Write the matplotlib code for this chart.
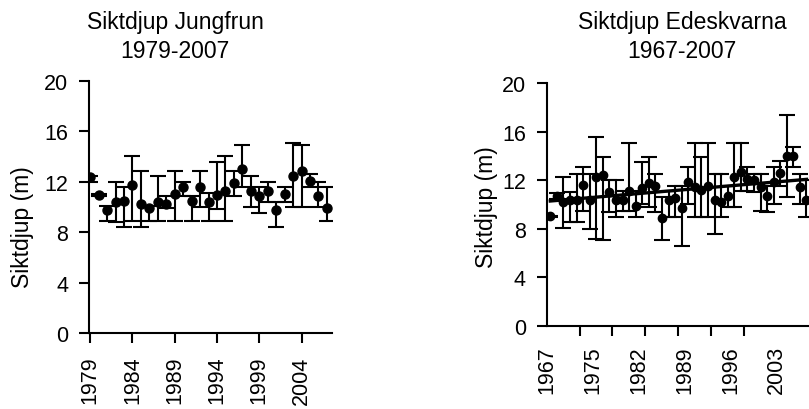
import matplotlib
matplotlib.use('Agg')
import matplotlib.pyplot as plt
import numpy as np

plt.rcParams['font.family'] = ['Liberation Sans', 'DejaVu Sans']

# Siktdjup Jungfrun 1979-2007
jung_years = list(range(1979, 2008))
jung_mean = [12.35, 10.95, 9.79, 10.37, 10.5, 11.77, 10.24, 9.92, 10.37, 10.26,
             11.03, 11.56, 10.5, 11.56, 10.37, 10.98, 11.24, 11.9, 13.0, 11.24,
             10.84, 11.24, 9.79, 11.03, 12.48, 12.82, 12.08, 10.84, 9.92]
jung_low = [12.0, 10.9, 8.92, 8.79, 8.44, 8.92, 8.44, 8.92, 8.92, 9.89,
            8.92, 10.9, 8.92, 9.97, 8.92, 9.84, 8.92, 10.9, 11.56, 9.97,
            9.52, 10.37, 8.44, 10.37, 9.97, 9.97, 11.56, 9.97, 8.92]
jung_high = [12.43, 11.0, 10.05, 12.0, 11.56, 14.0, 12.88, 10.1, 12.43, 10.9,
             12.88, 12.0, 10.9, 12.88, 11.08, 13.54, 14.0, 12.88, 14.9, 12.43,
             11.56, 12.0, 10.37, 11.56, 15.07, 14.9, 12.6, 12.0, 11.56]
jung_ticks = [1979, 1984, 1989, 1994, 1999, 2004]

# Siktdjup Edeskvarna 1967-2007 (one year missing in the series)
edes_years = [1967] + list(range(1969, 2008))
edes_mean = [9.02, 10.67, 10.22, 10.34, 10.34, 11.60, 10.34, 12.26, 12.42, 11.0,
             10.39, 10.39, 11.13, 9.84, 11.33, 11.76, 11.49, 8.90, 10.39, 10.50,
             9.68, 11.82, 11.41, 11.21, 11.49, 10.39, 10.22, 10.67, 12.26, 12.70,
             12.09, 11.99, 11.43, 10.67, 11.82, 12.59, 14.01, 14.01, 11.43, 10.39]
edes_low = [8.98, 10.4, 8.05, 8.52, 8.52, 9.43, 7.97, 7.15, 7.07, 9.35,
            8.99, 9.43, 9.43, 8.99, 10.03, 9.81, 9.35, 7.07, 8.99, 8.99,
            6.60, 10.03, 8.99, 8.99, 8.99, 7.56, 8.99, 9.81, 9.81, 11.13,
            11.13, 11.0, 9.43, 9.35, 10.03, 11.54, 10.63, 13.06, 10.03, 8.99]
edes_high = [9.06, 10.9, 12.23, 11.0, 12.51, 13.06, 12.51, 15.53, 13.93, 12.01,
             12.01, 11.13, 15.04, 11.13, 13.47, 13.93, 12.51, 10.63, 11.13, 11.54,
             11.54, 13.06, 15.04, 13.93, 15.04, 12.51, 12.51, 11.54, 15.04, 15.04,
             13.06, 12.51, 12.51, 11.54, 13.06, 13.60, 17.4, 14.76, 12.51, 12.0]
edes_label_years = [1967, 1975, 1982, 1989, 1996, 2003]

LW = 1.5
TICK_FS = 15.5
LABEL_FS = 16.5


def style_axis(ax):
    ax.spines['top'].set_visible(False)
    ax.spines['right'].set_visible(False)
    ax.spines['left'].set_linewidth(LW)
    ax.spines['bottom'].set_linewidth(LW)
    ax.set_ylim(0, 20)
    ax.set_yticks([0, 4, 8, 12, 16, 20])
    ax.tick_params(axis='y', length=7, width=LW, pad=8, labelsize=TICK_FS)
    ax.tick_params(axis='x', which='both', width=LW, pad=9, labelsize=TICK_FS,
                   labelrotation=90)
    ax.set_facecolor('white')


fig = plt.figure(figsize=(8.09, 4.10), dpi=100)

# left panel
ax1 = fig.add_axes([0.1104, 0.1846, 0.3004, 0.6161])
m = np.array(jung_mean)
err = [m - np.array(jung_low), np.array(jung_high) - m]
ax1.errorbar(jung_years, m, yerr=err, fmt='o', color='black', ms=6.5,
             elinewidth=LW, capsize=5.5, capthick=LW)
style_axis(ax1)
ax1.set_xlim(1978.9, 2007.64)
ax1.set_xticks(jung_ticks)
ax1.set_xticklabels([str(y) for y in jung_ticks])
ax1.tick_params(axis='x', length=7)

# right panel, category axis (extends past the right edge of the picture)
ax2 = fig.add_axes([0.6758, 0.2032, 0.3276, 0.5920])
idx = np.arange(len(edes_years))
m2 = np.array(edes_mean)
err2 = [m2 - np.array(edes_low), np.array(edes_high) - m2]
ax2.errorbar(idx, m2, yerr=err2, fmt='o', color='black', ms=6,
             elinewidth=LW, capsize=5.5, capthick=LW)
coef = np.polyfit(idx, m2, 1)
ax2.plot(idx, np.polyval(coef, idx), color='black', lw=2.4)
style_axis(ax2)
ax2.set_xlim(-0.55, 39.8)
x_off = 0.55
label_pos = [edes_years.index(y) for y in edes_label_years]
ax2.set_xticks([p - x_off for p in label_pos])
ax2.set_xticklabels([str(y) for y in edes_label_years])
ax2.set_xticks(np.arange(0, 36, 5) - x_off, minor=True)
ax2.tick_params(axis='x', which='major', length=0, pad=14)
ax2.tick_params(axis='x', which='minor', length=7)

# titles and axis labels
fig.text(175 / 809, 1 - 22 / 410, 'Siktdjup Jungfrun', ha='center', va='center',
         fontsize=LABEL_FS)
fig.text(175 / 809, 1 - 52 / 410, '1979-2007', ha='center', va='center',
         fontsize=LABEL_FS)
fig.text(682 / 809, 1 - 22 / 410, 'Siktdjup Edeskvarna', ha='center', va='center',
         fontsize=LABEL_FS)
fig.text(682 / 809, 1 - 52 / 410, '1967-2007', ha='center', va='center',
         fontsize=LABEL_FS)
fig.text(22 / 809, 1 - 227 / 410, 'Siktdjup (m)', rotation=90, ha='center',
         va='center', fontsize=LABEL_FS)
fig.text(486 / 809, 1 - 207 / 410, 'Siktdjup (m)', rotation=90, ha='center',
         va='center', fontsize=LABEL_FS)

fig.savefig('out.png', dpi=100, facecolor='white')
